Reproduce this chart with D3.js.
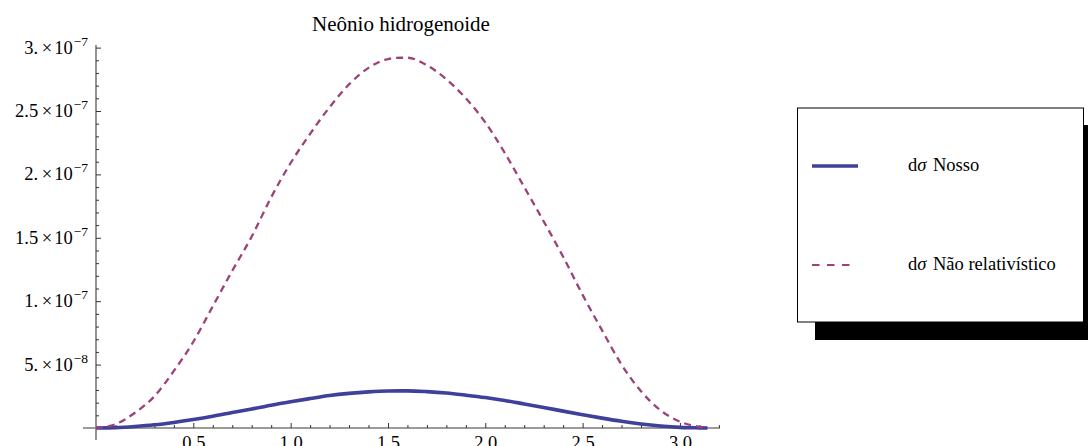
<!DOCTYPE html>
<html>
<head>
<meta charset="utf-8">
<script src="https://cdn.jsdelivr.net/npm/d3@7"></script>
<style>
  html, body { margin: 0; padding: 0; background: #fff; overflow: hidden; }
  svg { display: block; }
</style>
</head>
<body>
<svg id="chart" width="1090" height="446"></svg>
<script>
// Scattering angle (rad) and differential cross sections
const angles = [0, 0.1, 0.2, 0.3, 0.4, 0.5, 0.6, 0.7, 0.8, 0.9, 1.0, 1.1, 1.2, 1.3, 1.4, 1.5, 1.5708,
                1.6, 1.7, 1.8, 1.9, 2.0, 2.1, 2.2, 2.3, 2.4, 2.5, 2.6, 2.7, 2.8, 2.9, 3.0, 3.1, 3.1416];
const sigmaNosso = [0, 0.03e-8, 0.12e-8, 0.25e-8, 0.44e-8, 0.67e-8, 0.93e-8, 1.22e-8, 1.50e-8, 1.80e-8,
                    2.07e-8, 2.32e-8, 2.56e-8, 2.73e-8, 2.85e-8, 2.92e-8, 2.93e-8,
                    2.93e-8, 2.87e-8, 2.76e-8, 2.59e-8, 2.40e-8, 2.17e-8, 1.90e-8, 1.62e-8, 1.33e-8,
                    1.05e-8, 0.78e-8, 0.53e-8, 0.32e-8, 0.16e-8, 0.05e-8, 0.01e-8, 0];
const sigmaNaoRelativistico = [0, 0.03e-7, 0.12e-7, 0.25e-7, 0.45e-7, 0.68e-7, 0.96e-7, 1.24e-7, 1.51e-7, 1.82e-7,
                    2.09e-7, 2.32e-7, 2.53e-7, 2.71e-7, 2.84e-7, 2.91e-7, 2.92e-7,
                    2.92e-7, 2.86e-7, 2.75e-7, 2.60e-7, 2.41e-7, 2.17e-7, 1.90e-7, 1.63e-7, 1.35e-7,
                    1.05e-7, 0.77e-7, 0.50e-7, 0.29e-7, 0.14e-7, 0.05e-7, 0.01e-7, 0];

const chartTitle = "Neônio hidrogenoide";
const seriesNames = ["Nosso", "Não relativístico"];
const seriesColors = ["#3f3f9c", "#9b4279"];

const xTickValues = [0.5, 1.0, 1.5, 2.0, 2.5, 3.0];
const xTickLabels = ["0.5", "1.0", "1.5", "2.0", "2.5", "3.0"];
const xMinorTicks = [0.1, 0.2, 0.3, 0.4, 0.6, 0.7, 0.8, 0.9, 1.1, 1.2, 1.3, 1.4, 1.6, 1.7, 1.8, 1.9,
                     2.1, 2.2, 2.3, 2.4, 2.6, 2.7, 2.8, 2.9, 3.1, 3.2];
const yTickValues = [5e-8, 1e-7, 1.5e-7, 2e-7, 2.5e-7, 3e-7];
const yTickMantissas = ["5.", "1.", "1.5", "2.", "2.5", "3."];
const yTickExponents = ["\u22128", "\u22127", "\u22127", "\u22127", "\u22127", "\u22127"];
const yMinorTicks = [1e-8, 2e-8, 3e-8, 4e-8, 6e-8, 7e-8, 8e-8, 9e-8, 1.1e-7, 1.2e-7, 1.3e-7, 1.4e-7,
                     1.6e-7, 1.7e-7, 1.8e-7, 1.9e-7, 2.1e-7, 2.2e-7, 2.3e-7, 2.4e-7, 2.6e-7, 2.7e-7,
                     2.8e-7, 2.9e-7];

const FONT = "Liberation Serif";
const svg = d3.select("#chart");
svg.append("rect").attr("width", 1090).attr("height", 446).attr("fill", "#fff");

const x = d3.scaleLinear().domain([0, Math.PI]).range([96, 707.5]);
const y = d3.scaleLinear().domain([0, 3e-7]).range([428, 47.6]);

// Title
svg.append("text")
  .attr("x", 401).attr("y", 31)
  .attr("text-anchor", "middle")
  .style("font-family", FONT).style("font-size", "21px")
  .attr("fill", "#000")
  .text(chartTitle);

// Axis lines
const axisColor = "#7a7a7a";
svg.append("line").attr("x1", 83).attr("x2", 720).attr("y1", y(0)).attr("y2", y(0))
  .attr("stroke", axisColor).attr("stroke-width", 1.6);
svg.append("line").attr("x1", x(0)).attr("x2", x(0)).attr("y1", 45).attr("y2", 440)
  .attr("stroke", axisColor).attr("stroke-width", 1.6);

function styleAxis(g) {
  g.select(".domain").remove();
  g.selectAll(".tick line").attr("stroke", "#333").attr("stroke-width", 1);
  g.selectAll(".tick text").style("font-family", FONT).style("font-size", "18.5px").attr("fill", "#000");
}

// X axis: major and minor ticks pointing inward
svg.append("g").attr("transform", `translate(0,${y(0)})`)
  .call(d3.axisBottom(x).tickValues(xMinorTicks).tickSizeInner(-3).tickSizeOuter(0).tickFormat(""))
  .call(styleAxis);
svg.append("g").attr("transform", `translate(0,${y(0)})`)
  .call(d3.axisBottom(x).tickValues(xTickValues).tickSizeInner(-5).tickSizeOuter(0)
        .tickPadding(8).tickFormat((d, i) => xTickLabels[i]))
  .call(styleAxis);

// Y axis
svg.append("g").attr("transform", `translate(${x(0)},0)`)
  .call(d3.axisLeft(y).tickValues(yMinorTicks).tickSizeInner(-3).tickSizeOuter(0).tickFormat(""))
  .call(styleAxis);
const yAxisG = svg.append("g").attr("transform", `translate(${x(0)},0)`)
  .call(d3.axisLeft(y).tickValues(yTickValues).tickSizeInner(-5).tickSizeOuter(0)
        .tickPadding(8).tickFormat(""))
  .call(styleAxis);
yAxisG.selectAll(".tick text").each(function (d, i) {
  const t = d3.select(this).text(null).attr("dy", "0.3em");
  t.append("tspan").text(yTickMantissas[i]);
  t.append("tspan").text("\u00d7").attr("dx", 3.5);
  t.append("tspan").text("10").attr("dx", 2);
  t.append("tspan").text(yTickExponents[i]).style("font-size", "13.5px").attr("dx", 1).attr("dy", -8);
});

// Curves
const line = d3.line().curve(d3.curveMonotoneX);
const ptsNosso = angles.map((a, i) => [x(a), y(sigmaNosso[i])]);
const ptsNR = angles.map((a, i) => [x(a), y(sigmaNaoRelativistico[i])]);

svg.append("path").attr("d", line(ptsNosso))
  .attr("fill", "none").attr("stroke", seriesColors[0]).attr("stroke-width", 3.6)
  .attr("stroke-linejoin", "round");
svg.append("path").attr("d", line(ptsNR))
  .attr("fill", "none").attr("stroke", seriesColors[1]).attr("stroke-width", 2.3)
  .attr("stroke-dasharray", "7,5");

// Legend with drop shadow
const legend = svg.append("g");
legend.append("rect").attr("x", 815).attr("y", 125).attr("width", 273).attr("height", 215).attr("fill", "#000");
legend.append("rect").attr("x", 797.5).attr("y", 108).attr("width", 286).attr("height", 214)
  .attr("fill", "#fff").attr("stroke", "#000").attr("stroke-width", 1);

const legendRows = [166, 265];
legend.append("line").attr("x1", 812).attr("x2", 858).attr("y1", legendRows[0]).attr("y2", legendRows[0])
  .attr("stroke", seriesColors[0]).attr("stroke-width", 3.6);
legend.append("line").attr("x1", 812).attr("x2", 852).attr("y1", legendRows[1]).attr("y2", legendRows[1])
  .attr("stroke", seriesColors[1]).attr("stroke-width", 2).attr("stroke-dasharray", "7.5,7.5");

seriesNames.forEach((name, i) => {
  const t = legend.append("text")
    .attr("x", 908).attr("y", legendRows[i] + 5)
    .style("font-family", FONT).style("font-size", "18.5px").attr("fill", "#000");
  t.append("tspan").text("d");
  t.append("tspan").text("\u03c3").style("font-style", "italic");
  t.append("tspan").text(" " + name).attr("dx", 2);
});
</script>
</body>
</html>
